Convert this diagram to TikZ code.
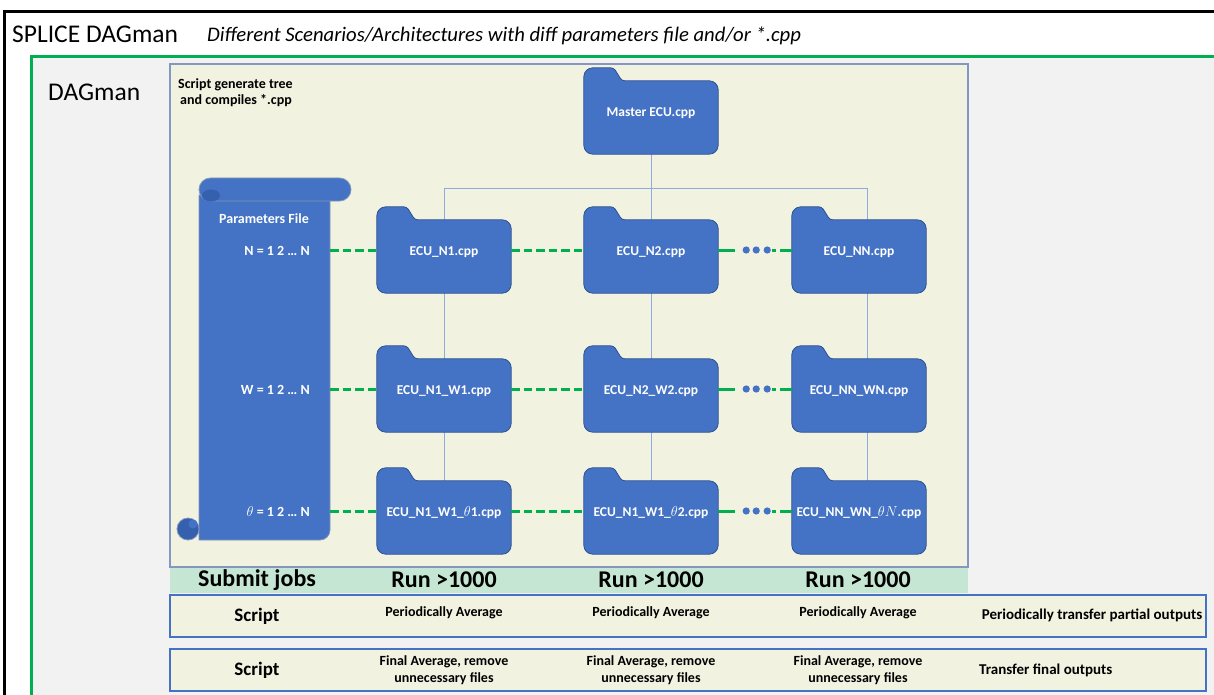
\documentclass[tikz,border=0pt]{standalone}
\usepackage{fontspec}
\setmainfont{Carlito}
\usetikzlibrary{calc}
\definecolor{fblue}{HTML}{4472C4}
\definecolor{fline}{HTML}{2F528F}
\definecolor{tanfill}{HTML}{F2F2E1}
\definecolor{tanline}{HTML}{8497C0}
\definecolor{ggreen}{HTML}{00B050}
\definecolor{bandfill}{HTML}{C5E6D2}
\definecolor{lgray}{HTML}{F2F2F2}
\definecolor{treeline}{HTML}{8FAADC}
\definecolor{sdark}{HTML}{3560AE}
\pgfdeclarelayer{back}
\pgfdeclarelayer{lines}
\pgfdeclarelayer{fold}
\pgfsetlayers{back,lines,fold,main}
\tikzset{
  folderbox/.style={minimum width=134pt, minimum height=86pt, inner sep=0pt, text=white,
    text height=13pt, text depth=2pt,
    font=\fontsize{13.5}{16}\selectfont\bfseries},
  ptext/.style={inner sep=0pt, text=white, font=\fontsize{14}{17}\selectfont\bfseries},
  gdash/.style={ggreen, line width=3pt, dash pattern=on 8.5pt off 4pt},
  tline/.style={treeline, line width=0.9pt},
  titletext/.style={inner sep=0pt, font=\fontsize{25.5}{30}\selectfont},
  subtext/.style={inner sep=0pt, font=\fontsize{20.7}{24}\selectfont\itshape},
  smalltext/.style={inner sep=0pt, align=left, font=\fontsize{14}{16}\selectfont\bfseries},
  bandtext/.style={inner sep=0pt, font=\fontsize{24}{28}\selectfont\bfseries},
  scripttext/.style={inner sep=0pt, font=\fontsize{19}{22}\selectfont\bfseries},
  rowtext/.style={inner sep=0pt, align=center, font=\fontsize{14}{17}\selectfont\bfseries},
  sidetext/.style={inner sep=0pt, font=\fontsize{15}{18}\selectfont\bfseries},
}
\newcommand{\ecufolder}[4]{%
  \node[folderbox] (#1) at (#2,#3) {#4};
  \begin{pgfonlayer}{fold}
  \filldraw[fill=fblue, draw=fline, line width=0.8pt, rounded corners=9pt]
    (#1.south) -- (#1.south west) -- (#1.north west) [rounded corners=3pt]
    -- ($(#1.north west)+(30,0)$) -- ($(#1.north west)+(38,13)$) [rounded corners=9pt]
    -- ($(#1.north east)+(0,13)$) -- (#1.south east) -- cycle;
  \end{pgfonlayer}}
\begin{document}
\begin{tikzpicture}[x=1pt,y=-1pt]
\useasboundingbox (0,0) rectangle (1214,695);
\clip (0,0) rectangle (1214,695);
\begin{pgfonlayer}{back}
  \fill[white] (0,0) rectangle (1214,695);
  \draw[black, line width=3pt] (4.5,11.5) rectangle (1240,730);
  \filldraw[fill=lgray, draw=ggreen, line width=2.7pt] (31.5,56.5) rectangle (1240,730);
  \filldraw[fill=tanfill, draw=tanline, line width=1.3pt] (170,64) rectangle (968,567);
  \fill[bandfill] (170,568) rectangle (968,593);
  \filldraw[fill=tanfill, draw=fblue, line width=1.3pt] (170,595) rectangle (1206,637);
  \filldraw[fill=tanfill, draw=fblue, line width=1.3pt] (170,649) rectangle (1206,691);
\end{pgfonlayer}

% titles
\node[titletext, anchor=base west] (title) at (12,43) {SPLICE DAGman};
\node[subtext, anchor=base west] (subtitle) at (207,42) {Different Scenarios/Architectures with diff parameters file and/or *.cpp};
\node[titletext, anchor=base west] (dag) at (48,101) {DAGman};
\node[smalltext, anchor=north west] (sg) at (178,78) {Script generate tree\\\hspace{2pt}and compiles *.cpp};

% scroll
\filldraw[fill=fblue, draw=fline!60, line width=0.8pt]
  (199,195) -- (199,540) -- (320,540) arc[start angle=90, end angle=0, radius=10] -- (330,195) -- cycle;
\filldraw[fill=sdark, draw=fline!60, line width=0.8pt] (188,529) circle[radius=11];
\fill[fblue] (193,524) circle[radius=4.5];
\filldraw[fill=fblue, draw=fline!60, line width=0.8pt, rounded corners=11.5pt] (199,178) rectangle (351,201);
\fill[sdark] (211,195.5) ellipse[x radius=9, y radius=6];
\node[ptext] (pf) at (264,219) {Parameters File};
\node[ptext, anchor=east] (pn) at (310,251) {N = 1 2 … N};
\node[ptext, anchor=east] (pw) at (310,390) {W = 1 2 … N};
\node[ptext, anchor=east] (pth) at (310,512) {$\theta$ = 1 2 … N};
\coordinate (sN) at (330,250);
\coordinate (sW) at (330,389);
\coordinate (sT) at (330,511);

% folders
\ecufolder{m}{651}{111}{Master ECU.cpp}
\ecufolder{n1}{444}{250}{ECU\_N1.cpp}
\ecufolder{n2}{651}{250}{ECU\_N2.cpp}
\ecufolder{n3}{859}{250}{ECU\_NN.cpp}
\ecufolder{w1}{444}{389}{ECU\_N1\_W1.cpp}
\ecufolder{w2}{651}{389}{ECU\_N2\_W2.cpp}
\ecufolder{w3}{859}{389}{ECU\_NN\_WN.cpp}
\ecufolder{t1}{444}{511}{ECU\_N1\_W1\_$\theta$1.cpp}
\ecufolder{t2}{651}{511}{ECU\_N1\_W1\_$\theta$2.cpp}
\ecufolder{t3}{859}{511}{ECU\_NN\_WN\_$\theta N$.cpp}

% tree lines
\begin{pgfonlayer}{lines}
  \coordinate (jn) at ($(m.south)+(0,34)$);
  \coordinate (k3) at ($(n3.center)+(8,0)$);
  \coordinate (k3b) at ($(t3.center)+(8,0)$);
  \draw[tline] (m.center) -- (t2.center);
  \draw[tline] (n1 |- jn) -- (k3 |- jn);
  \draw[tline] (n1 |- jn) -- (t1.center);
  \draw[tline] (k3 |- jn) -- (k3b);
\end{pgfonlayer}

% green links
\foreach \s/\a/\b/\c in {sN/n1/n2/n3, sW/w1/w2/w3, sT/t1/t2/t3}{
  \draw[gdash] (\s) -- (\a);
  \draw[gdash] (\a) -- (\b);
  \draw[gdash, dash pattern=on 17pt off 37pt on 4pt off 4pt on 14pt] (\b.east) -- (\c.west);
  \foreach \d in {28,38,49} \fill[fblue] ($(\b.east)+(\d,0)$) circle[radius=3.6];
}

% band
\node[bandtext] (sj) at (257,580) {Submit jobs};
\node[bandtext] (r1) at (444,580) {Run >1000};
\node[bandtext] (r2) at (651,580) {Run >1000};
\node[bandtext] (r3) at (858,580) {Run >1000};

% script rows
\node[scripttext] (s1) at (257,616) {Script};
\node[rowtext] (pa1) at (444,613) {Periodically Average};
\node[rowtext] (pa2) at (651,613) {Periodically Average};
\node[rowtext] (pa3) at (858,613) {Periodically Average};
\node[sidetext] (ptp) at (1092,615) {Periodically transfer partial outputs};
\node[scripttext] (s2) at (257,670) {Script};
\node[rowtext] (fa1) at (444,670) {Final Average, remove\\unnecessary files};
\node[rowtext] (fa2) at (651,670) {Final Average, remove\\unnecessary files};
\node[rowtext] (fa3) at (858,670) {Final Average, remove\\unnecessary files};
\node[sidetext, anchor=west] (tfo) at (979,670) {Transfer final outputs};
\end{tikzpicture}
\end{document}
